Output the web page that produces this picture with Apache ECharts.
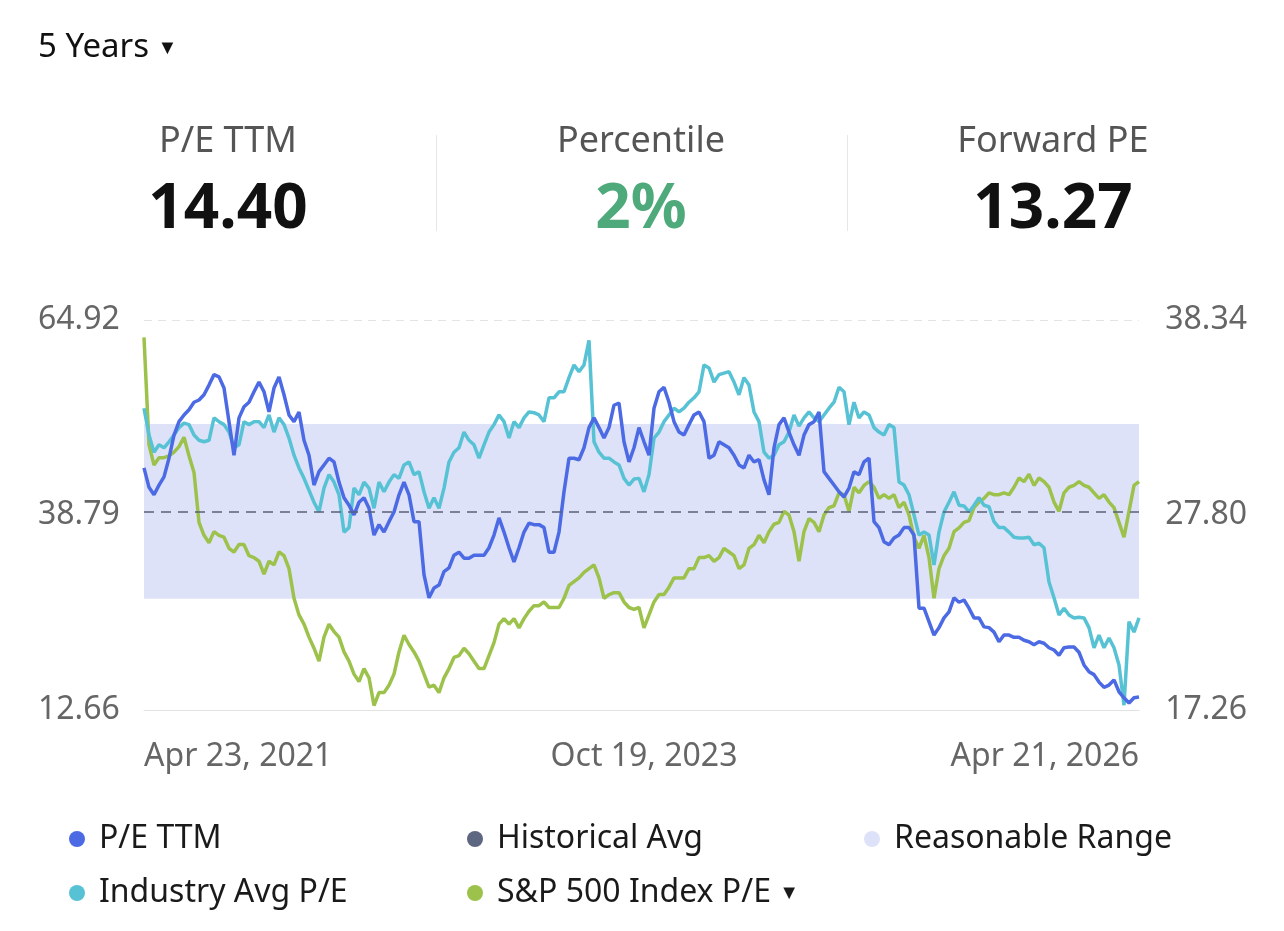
<!DOCTYPE html>
<html>
<head>
<meta charset="utf-8">
<title>P/E valuation</title>
<script src="https://cdn.jsdelivr.net/npm/echarts@6/dist/echarts.min.js"></script>
<style>
  html, body { margin: 0; padding: 0; background: #fff; }
  #chart { width: 1284px; height: 931px; }
</style>
</head>
<body>
<div id="chart"></div>
<script>
// header stats
const statLabels = ['P/E TTM', 'Percentile', 'Forward PE']
const statValues = ['14.40', '2%', '13.27']

// x axis anchors (first, middle, last sample)
const xTickLabels = ['Apr 23, 2021', 'Oct 19, 2023', 'Apr 21, 2026']
const xTickIndex = [0, 100, 199]

// axis ranges
const leftAxis = [12.66, 38.79, 64.92]
const rightAxis = [17.26, 27.80, 38.34]

const histAvg = 39.23
const rangeLow = 27.57
const rangeHigh = 50.98

// P/E TTM (left axis)
const peTTM = [
  45.1, 42.5, 41.5, 42.8, 43.9, 46.4, 49.5, 51.3, 52.2, 52.9,
  53.9, 54.2, 54.9, 56.2, 57.6, 57.3, 55.8, 51.3, 46.8, 51.8,
  53.3, 53.9, 55.3, 56.6, 55.3, 52.6, 55.8, 57.3, 54.9, 52.2,
  51.3, 52.6, 48.8, 46.8, 42.8, 44.6, 45.5, 46.4, 45.9, 43.2,
  41.1, 40.1, 38.8, 40.5, 41.1, 39.7, 36.1, 37.5, 36.5, 37.9,
  39.2, 41.5, 43.2, 41.5, 37.9, 37.9, 30.8, 27.7, 29.0, 29.4,
  31.2, 31.7, 33.4, 33.8, 33.0, 33.0, 33.4, 33.4, 33.4, 34.4,
  36.1, 38.4, 36.5, 34.4, 32.5, 34.4, 36.5, 37.7, 37.5, 37.5,
  37.1, 33.8, 33.8, 36.5, 41.9, 46.4, 46.4, 46.2, 47.8, 50.5,
  51.8, 50.5, 49.1, 50.5, 53.5, 53.8, 48.6, 45.9, 47.8, 50.5,
  48.6, 46.8, 53.1, 55.3, 55.9, 53.9, 51.3, 49.9, 49.5, 50.9,
  52.2, 52.6, 51.3, 46.4, 46.8, 48.6, 48.2, 47.8, 46.8, 45.5,
  45.1, 46.8, 45.9, 46.2, 43.5, 41.5, 47.8, 50.9, 51.8, 49.9,
  48.2, 46.8, 49.5, 50.9, 51.3, 52.6, 44.6, 43.7, 42.8, 41.9,
  41.2, 42.4, 44.6, 44.2, 45.9, 46.4, 37.9, 37.1, 35.2, 34.8,
  35.7, 36.1, 37.1, 37.1, 36.1, 26.3, 26.3, 24.5, 22.7, 23.7,
  25.0, 25.8, 27.7, 27.1, 27.4, 26.3, 25.0, 25.0, 23.8, 23.7,
  23.1, 21.8, 22.7, 22.7, 22.4, 22.4, 22.0, 21.8, 21.4, 21.8,
  21.6, 21.0, 20.7, 20.0, 21.0, 21.1, 21.1, 20.4, 18.7, 17.8,
  17.4, 16.4, 15.7, 16.0, 16.7, 15.1, 14.3, 13.6, 14.3, 14.4
]

// Industry Avg P/E (left axis)
const industryPE = [
  53.1, 49.5, 47.2, 48.2, 47.8, 48.6, 49.5, 50.5, 51.1, 50.9,
  49.5, 48.8, 48.6, 48.8, 51.8, 51.3, 50.9, 49.9, 47.8, 48.2,
  51.3, 50.9, 51.3, 51.3, 50.5, 52.2, 49.9, 51.8, 50.9, 49.1,
  46.8, 45.1, 43.7, 42.1, 40.5, 39.2, 42.4, 44.2, 43.2, 41.5,
  36.5, 37.1, 42.4, 41.5, 43.2, 42.4, 39.7, 43.2, 41.9, 43.2,
  44.2, 43.7, 45.5, 45.9, 44.2, 44.6, 41.9, 39.7, 41.1, 39.7,
  42.4, 45.9, 47.2, 47.8, 49.9, 48.8, 48.2, 46.4, 48.2, 49.9,
  50.9, 52.2, 51.3, 49.1, 51.3, 50.5, 51.8, 52.6, 52.5, 52.2,
  51.3, 54.5, 54.5, 55.3, 55.3, 57.2, 58.9, 58.0, 58.9, 62.2,
  48.6, 47.2, 46.4, 46.4, 45.9, 45.5, 43.7, 42.8, 43.6, 43.7,
  41.9, 44.2, 49.1, 49.9, 51.3, 52.2, 53.1, 52.6, 53.1, 53.9,
  54.5, 55.3, 58.9, 58.5, 56.6, 57.6, 57.8, 58.0, 56.6, 54.9,
  57.2, 56.2, 52.6, 51.3, 47.2, 46.4, 46.8, 48.2, 48.6, 49.9,
  52.2, 50.7, 51.8, 52.6, 51.8, 51.3, 52.2, 53.1, 53.9, 55.9,
  55.3, 50.9, 53.9, 51.8, 52.6, 52.2, 50.5, 49.9, 49.5, 50.9,
  50.5, 43.2, 42.8, 41.5, 38.8, 36.1, 36.5, 36.1, 32.1, 36.5,
  39.2, 40.5, 41.9, 40.1, 40.0, 39.2, 40.1, 41.1, 40.1, 39.9,
  37.9, 37.1, 37.1, 36.5, 35.8, 35.7, 35.7, 35.8, 34.8, 35.0,
  34.4, 29.8, 27.7, 25.4, 26.3, 25.4, 25.0, 25.1, 25.0, 23.7,
  21.0, 22.7, 21.0, 22.3, 21.0, 18.7, 13.3, 24.5, 23.1, 25.0
]

// S&P 500 Index P/E (right axis)
const spxPE = [
  37.4, 31.6, 30.5, 30.9, 30.9, 31.0, 31.2, 31.5, 32.0, 31.0,
  30.1, 27.4, 26.7, 26.3, 26.9, 26.7, 26.6, 26.0, 25.8, 26.2,
  26.2, 25.6, 25.5, 25.3, 24.6, 25.3, 25.1, 25.8, 25.6, 24.9,
  23.3, 22.4, 21.9, 21.2, 20.6, 19.9, 21.2, 21.9, 21.5, 21.2,
  20.4, 19.9, 19.2, 18.8, 19.5, 19.0, 17.5, 18.2, 18.2, 18.6,
  19.2, 20.4, 21.3, 20.8, 20.4, 19.9, 19.2, 18.5, 18.6, 18.2,
  19.0, 19.5, 20.1, 20.2, 20.6, 20.3, 19.9, 19.5, 19.5, 20.2,
  20.9, 21.9, 22.2, 21.9, 22.2, 21.7, 22.2, 22.6, 22.9, 22.9,
  23.1, 22.8, 22.8, 22.8, 23.3, 24.0, 24.2, 24.4, 24.7, 24.9,
  25.1, 24.4, 23.3, 23.5, 23.6, 23.6, 23.1, 22.8, 22.7, 22.8,
  21.7, 22.4, 23.1, 23.5, 23.5, 23.9, 24.4, 24.4, 24.4, 24.9,
  24.9, 25.5, 25.5, 25.6, 25.3, 25.5, 26.0, 25.8, 25.6, 24.9,
  25.1, 26.0, 26.2, 26.7, 26.3, 26.9, 27.3, 27.4, 28.0, 27.8,
  26.9, 25.3, 26.9, 27.6, 27.4, 26.9, 27.8, 28.2, 28.3, 29.0,
  28.9, 28.0, 29.3, 29.0, 29.4, 29.6, 29.3, 28.7, 28.9, 28.7,
  28.9, 28.2, 28.5, 27.8, 26.6, 26.0, 26.7, 25.5, 23.3, 24.9,
  25.6, 26.0, 26.9, 27.1, 27.4, 27.5, 28.2, 28.5, 28.7, 29.0,
  28.9, 28.9, 29.0, 28.9, 29.3, 29.8, 29.6, 30.0, 29.4, 29.8,
  29.6, 29.3, 28.5, 28.0, 29.0, 29.3, 29.4, 29.6, 29.4, 29.3,
  29.0, 28.7, 28.9, 28.5, 28.2, 27.4, 26.6, 28.0, 29.4, 29.6
]

const colors = {
  pe: '#4b6ae4',
  industry: '#58c2d5',
  spx: '#9cc24b',
  avg: '#5e6781',
  range: '#dde2f8'
}

// sample dates between the three anchor labels
function buildDates() {
  const anchors = xTickLabels.map((s) => Date.parse(s + ' UTC'))
  const out = []
  for (let i = 0; i < peTTM.length; i++) {
    let k = i <= xTickIndex[1] ? 0 : 1
    let t0 = anchors[k], t1 = anchors[k + 1]
    let f = (i - xTickIndex[k]) / (xTickIndex[k + 1] - xTickIndex[k])
    let d = new Date(t0 + (t1 - t0) * f)
    out.push(d.toLocaleDateString('en-US', { month: 'short', day: 'numeric', year: 'numeric', timeZone: 'UTC' }))
  }
  return out
}
const dates = buildDates()

const font = '"Noto Sans", "Open Sans", sans-serif'
const chart = echarts.init(document.getElementById('chart'))

const statX = [228, 641, 1053]
const headerGraphics = [
  {
    type: 'text', x: 38, y: 48,
    style: {
      text: '5 Years {t|▼}', fontSize: 33, fontFamily: font, fill: '#111',
      verticalAlign: 'middle',
      rich: { t: { fontSize: 20, fill: '#111', verticalAlign: 'middle' } }
    }
  },
  { type: 'rect', shape: { x: 436, y: 135, width: 1, height: 96 }, style: { fill: '#e6e6e6' } },
  { type: 'rect', shape: { x: 847, y: 135, width: 1, height: 96 }, style: { fill: '#e6e6e6' } }
]
statLabels.forEach((label, i) => {
  headerGraphics.push({
    type: 'text', x: statX[i], y: 142,
    style: { text: label, fontSize: 36, fontFamily: font, fill: '#555', align: 'center', verticalAlign: 'middle' }
  })
  headerGraphics.push({
    type: 'text', x: statX[i], y: 210,
    style: {
      text: statValues[i], fontSize: 62, fontWeight: 'bold', fontFamily: font,
      fill: i === 1 ? '#4ea97b' : '#111', align: 'center', verticalAlign: 'middle'
    }
  })
})

const legendBase = {
  icon: 'circle',
  itemWidth: 34,
  itemHeight: 16,
  selectedMode: false,
  textStyle: { fontSize: 32, fontFamily: font, color: '#1a1a1a', rich: { t: { fontSize: 20, color: '#1a1a1a' } } }
}
const legendPos = [
  ['P/E TTM', 64, 818],
  ['Historical Avg', 462, 818],
  ['Reasonable Range', 859, 818],
  ['Industry Avg P/E', 64, 872],
  ['S&P 500 Index P/E', 462, 872]
]

const option = {
  animation: false,
  backgroundColor: '#fff',
  textStyle: { fontFamily: font },
  graphic: headerGraphics,
  legend: legendPos.map(([name, left, top]) => Object.assign({}, legendBase, {
    data: [name], left: left, top: top,
    formatter: (n) => (n === 'S&P 500 Index P/E' ? n + ' {t|▼}' : n)
  })),
  grid: { left: 144, right: 145, top: 320, bottom: 221, containLabel: false },
  xAxis: {
    type: 'category',
    boundaryGap: false,
    data: dates,
    axisLine: { lineStyle: { color: '#e2e2e2', width: 1 } },
    axisTick: { show: false },
    axisLabel: {
      interval: (idx) => xTickIndex.indexOf(idx) >= 0,
      formatter: (v, idx) => xTickLabels[xTickIndex.indexOf(idx)] || v,
      fontSize: 32, color: '#666', margin: 31, fontFamily: font,
      alignMinLabel: 'left', alignMaxLabel: 'right'
    },
    splitLine: { show: false }
  },
  yAxis: [
    {
      type: 'value', position: 'left',
      min: leftAxis[0], max: leftAxis[2], interval: leftAxis[1] - leftAxis[0],
      axisLine: { show: false }, axisTick: { show: false },
      axisLabel: { align: 'left', margin: 106, fontSize: 32, color: '#666', fontFamily: font, formatter: (v) => v.toFixed(2) },
      splitLine: { lineStyle: { type: [8, 6], color: '#e4e4e4' } }
    },
    {
      type: 'value', position: 'right',
      min: rightAxis[0], max: rightAxis[2], interval: rightAxis[1] - rightAxis[0],
      axisLine: { show: false }, axisTick: { show: false },
      axisLabel: { align: 'right', margin: 108, fontSize: 32, color: '#666', fontFamily: font, formatter: (v) => v.toFixed(2) },
      splitLine: { show: false }
    }
  ],
  series: [
    {
      name: 'Reasonable Range', type: 'line', data: [], color: colors.range,
      markArea: {
        silent: true,
        itemStyle: { color: colors.range },
        data: [[{ yAxis: rangeLow }, { yAxis: rangeHigh }]]
      }
    },
    {
      name: 'Historical Avg', type: 'line', data: [], color: colors.avg,
      markLine: {
        silent: true, symbol: 'none', label: { show: false },
        lineStyle: { color: '#5a6078', type: [10, 7], width: 1.5 },
        data: [{ yAxis: histAvg }]
      }
    },
    {
      name: 'S&P 500 Index P/E', type: 'line', yAxisIndex: 1, data: spxPE,
      color: colors.spx, showSymbol: false, lineStyle: { width: 3.5 }
    },
    {
      name: 'Industry Avg P/E', type: 'line', data: industryPE,
      color: colors.industry, showSymbol: false, lineStyle: { width: 3.5 }
    },
    {
      name: 'P/E TTM', type: 'line', data: peTTM,
      color: colors.pe, showSymbol: false, lineStyle: { width: 3.5 }
    }
  ]
}

chart.setOption(option)
window.addEventListener('resize', () => {
  chart.resize()
})
</script>
</body>
</html>
